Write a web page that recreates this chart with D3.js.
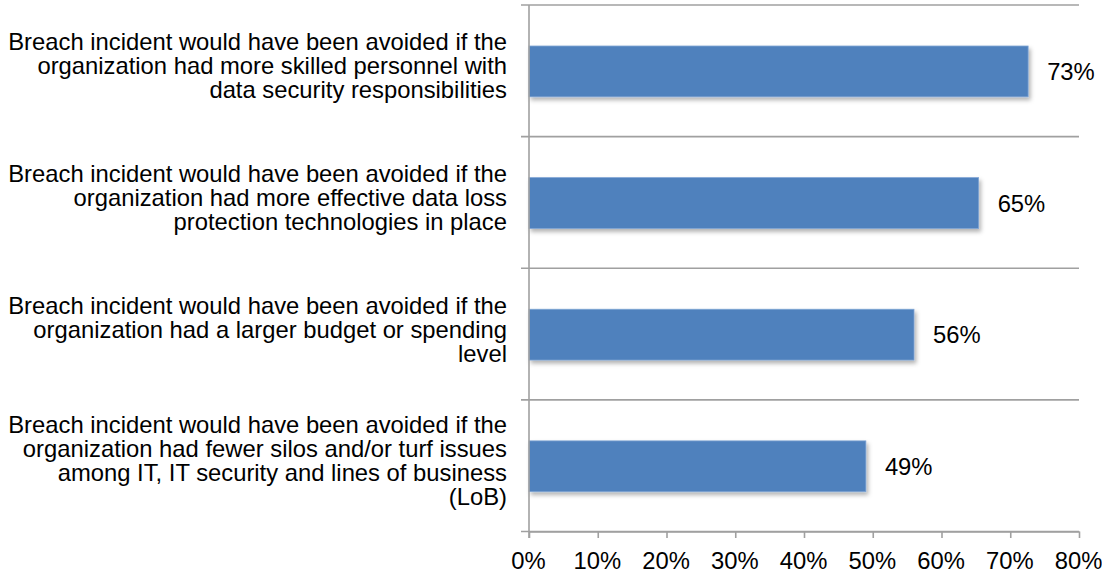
<!DOCTYPE html>
<html>
<head>
<meta charset="utf-8">
<script src="https://cdn.jsdelivr.net/npm/d3@7/dist/d3.min.js"></script>
<style>
  html, body { margin: 0; padding: 0; background: #fff; }
  svg { display: block; }
  text { font-family: "Liberation Sans", Arial, Helvetica, sans-serif; fill: #000; }
</style>
</head>
<body>
<svg id="chart" width="1102" height="571"></svg>
<script>
// ---- data ----
const categories = [
  ["Breach incident would have been avoided if the", "organization had more skilled personnel with", "data security responsibilities"],
  ["Breach incident would have been avoided if the", "organization had more effective data loss", "protection technologies in place"],
  ["Breach incident would have been avoided if the", "organization had a larger budget or spending", "level"],
  ["Breach incident would have been avoided if the", "organization had fewer silos and/or turf issues", "among IT, IT security and lines of business", "(LoB)"]
];
const values = [72.6, 65.4, 56.0, 49.0];
const valueLabels = ["73%", "65%", "56%", "49%"];
const xTicks = [0, 10, 20, 30, 40, 50, 60, 70, 80];

(function () {
// ---- layout ----
const svg = d3.select("#chart");
const mLeft = 529, mRight = 1079, mTop = 5, mBottom = 531.5;
const fontSize = 23.8;
const lineH = 24;
const gridColor = "#a0a0a0";

const x = d3.scaleLinear().domain([0, 80]).range([mLeft, mRight]);
const idx = d3.range(categories.length);
const y = d3.scaleBand().domain(idx).range([mTop, mBottom]).padding(0);
const bw = y.bandwidth();
const barH = bw * 0.386;

// drop shadow
const defs = svg.append("defs");
const f = defs.append("filter").attr("id", "shadow")
  .attr("x", "-5%").attr("y", "-20%").attr("width", "115%").attr("height", "160%");
f.append("feDropShadow").attr("dx", 2).attr("dy", 3).attr("stdDeviation", 2)
  .attr("flood-color", "#000").attr("flood-opacity", 0.3);

// category separator lines (horizontal) incl. top & bottom
const sepYs = idx.map(i => y(i)).concat([y(idx[idx.length - 1]) + bw]);
svg.append("g").selectAll("line").data(sepYs).join("line")
  .attr("x1", mLeft - 8).attr("x2", mRight)
  .attr("y1", d => d).attr("y2", d => d)
  .attr("stroke", gridColor).attr("stroke-width", 1.6);

// bars
svg.append("g").selectAll("rect").data(values).join("rect")
  .attr("x", x(0))
  .attr("y", (d, i) => y(i) + (bw - barH) / 2 + 0.6)
  .attr("width", d => x(d) - x(0))
  .attr("height", barH)
  .attr("fill", "#4f81bd")
  .attr("stroke", "#7fa4d3")
  .attr("stroke-width", 0.8)
  .attr("filter", "url(#shadow)");

// vertical axis line
svg.append("line")
  .attr("x1", mLeft).attr("x2", mLeft)
  .attr("y1", mTop).attr("y2", mBottom + 6.5)
  .attr("stroke", gridColor).attr("stroke-width", 1.6);

// x axis using d3.axisBottom
const xAxis = d3.axisBottom(x).tickValues(xTicks).tickSize(6.5).tickSizeOuter(0)
  .tickFormat(d => d + "%");
const gx = svg.append("g").attr("transform", `translate(0,${mBottom})`).call(xAxis);
gx.select(".domain").attr("stroke", gridColor).attr("stroke-width", 1.6);
gx.selectAll(".tick line").attr("stroke", gridColor).attr("stroke-width", 1.6);
gx.selectAll(".tick text")
  .attr("y", 0).attr("dy", 0)
  .attr("transform", "translate(-1,37.3)")
  .style("font-family", '"Liberation Sans", Arial, Helvetica, sans-serif')
  .style("font-size", fontSize + "px")
  .attr("fill", "#000");

// category labels
const lab = svg.append("g");
categories.forEach((lines, i) => {
  const cy = y(i) + bw / 2;
  const n = lines.length;
  const t = lab.append("text")
    .attr("text-anchor", "end")
    .style("font-size", fontSize + "px");
  lines.forEach((ln, j) => {
    t.append("tspan")
      .attr("x", mLeft - 22)
      .attr("y", cy + 3.5 + (j - (n - 1) / 2) * lineH)
      .text(ln);
  });
});

// value labels
svg.append("g").selectAll("text").data(values).join("text")
  .attr("x", d => x(d) + 19)
  .attr("y", (d, i) => y(i) + bw / 2 + 9.2)
  .style("font-size", fontSize + "px")
  .text((d, i) => valueLabels[i]);
})();
</script>
</body>
</html>
